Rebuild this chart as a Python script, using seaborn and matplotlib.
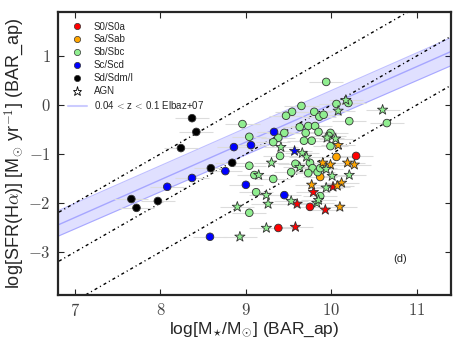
import numpy as np
import pandas as pd
import seaborn as sns
import matplotlib
matplotlib.use("Agg")
from matplotlib import pyplot as plt
from matplotlib.lines import Line2D

# --- data: log M*, log SFR ---
s0_mass = [10.29, 9.75, 9.38]
s0_sfr = [-1.04, -2.08, -2.51]
s0_agn_mass = [9.79, 10.02, 9.93, 9.60, 9.58]
s0_agn_sfr = [-1.78, -1.67, -2.14, -2.02, -2.49]

sa_mass = [10.06, 9.87]
sa_sfr = [-1.06, -1.47]
sa_agn_mass = [10.08, 9.90, 9.99, 10.19, 10.27, 9.77, 10.12, 10.07, 10.10]
sa_agn_sfr = [-0.82, -1.18, -1.22, -1.18, -1.22, -1.63, -1.59, -1.65, -2.08]

sb_mass = [9.94, 9.65, 9.54, 9.47, 9.80, 9.86, 9.91, 10.06, 10.20, 10.21, 10.65,
           9.63, 9.73, 9.81, 9.85, 9.70, 9.77, 9.68, 9.45, 9.38, 9.32, 9.99, 9.97, 9.99,
           8.96, 9.04, 9.40, 9.04, 9.58, 9.75, 9.78, 9.73, 9.84, 9.87, 9.53, 9.10, 9.32,
           9.12, 9.87, 9.04]
sb_sfr = [0.47, -0.02, -0.14, -0.22, -0.14, -0.24, -0.20, 0.02, 0.04, -0.33, -0.37,
          -0.45, -0.43, -0.43, -0.55, -0.57, -0.73, -0.73, -0.57, -0.67, -0.76, -0.57, -0.63, -0.84,
          -0.39, -0.65, -1.04, -1.24, -1.20, -1.18, -1.29, -1.39, -1.37, -1.29, -1.37, -1.43, -1.51,
          -1.78, -1.86, -2.20]
sb_agn_mass = [10.08, 10.17, 10.60, 10.05, 9.95, 9.41, 9.66, 9.71, 9.30, 9.63, 9.94, 10.01,
               10.21, 9.15, 9.94, 9.24, 9.53, 9.26, 9.83, 9.85, 9.24, 8.90, 8.93]
sb_agn_sfr = [-0.12, 0.10, -0.10, -0.69, -0.67, -0.86, -0.98, -1.06, -1.18, -1.27, -1.31, -1.45,
              -1.43, -1.43, -1.69, -1.84, -1.96, -2.02, -2.00, -1.94, -2.51, -2.08, -2.69]

sc_mass = [8.86, 9.00, 8.76, 8.37, 8.08, 8.58, 9.33, 9.06, 9.45]
sc_sfr = [-0.86, -1.63, -1.35, -1.49, -1.67, -2.69, -0.55, -0.82, -1.84]
sc_agn_mass = [9.57]
sc_agn_sfr = [-0.94]

sd_mass = [8.37, 8.42, 8.24, 8.59, 8.84, 7.66, 7.72, 7.97]
sd_sfr = [-0.27, -0.55, -0.88, -1.29, -1.18, -1.92, -2.10, -1.96]

mass_err = 0.2

# Elbaz+07 relation, read at the plot edges
elbaz_mass = [6.8, 11.4]
elbaz_sfr = [-2.45, 1.09]
elbaz_hi = [-2.16, 1.37]
elbaz_lo = [-2.68, 0.80]

ssfr_levels = [-9, -10, -11]
ssfr_mass = np.array([6.5, 12.0])

types = ["S0/S0a", "Sa/Sab", "Sb/Sbc", "Sc/Scd", "Sd/Sdm/I"]
colors = ["#ff0000", "#ffa500", "#90ee90", "#0000ff", "#000000"]

rows = []
groups = [
    ("S0/S0a", s0_mass, s0_sfr, False), ("S0/S0a", s0_agn_mass, s0_agn_sfr, True),
    ("Sa/Sab", sa_mass, sa_sfr, False), ("Sa/Sab", sa_agn_mass, sa_agn_sfr, True),
    ("Sb/Sbc", sb_mass, sb_sfr, False), ("Sb/Sbc", sb_agn_mass, sb_agn_sfr, True),
    ("Sc/Scd", sc_mass, sc_sfr, False), ("Sc/Scd", sc_agn_mass, sc_agn_sfr, True),
    ("Sd/Sdm/I", sd_mass, sd_sfr, False),
]
for t, m, s, agn in groups:
    for mi, si in zip(m, s):
        rows.append([t, mi, si, agn])
df = pd.DataFrame(rows, columns=["type", "mass", "sfr", "agn"])

sns.set_style("ticks")
plt.rcParams["font.family"] = ["Liberation Sans", "DejaVu Sans"]
plt.rcParams["mathtext.fontset"] = "cm"

fig, ax = plt.subplots(figsize=(4.63, 3.48), dpi=100)
fig.subplots_adjust(left=0.125, right=0.974, top=0.966, bottom=0.152)

# band
ax.fill_between(elbaz_mass, elbaz_lo, elbaz_hi, color="#0000ff", alpha=0.12, lw=0, zorder=1)
ax.plot(elbaz_mass, elbaz_hi, color="#0000ff", alpha=0.25, lw=0.8, zorder=1)
ax.plot(elbaz_mass, elbaz_lo, color="#0000ff", alpha=0.25, lw=0.8, zorder=1)
ax.plot(elbaz_mass, elbaz_sfr, color="#8080ff", alpha=0.6, lw=1.0, zorder=1)

for lv in ssfr_levels:
    ax.plot(ssfr_mass, ssfr_mass + lv, color="black", lw=1.0, zorder=2,
            dashes=(2.2, 2.2, 0.8, 2.2))

ax.errorbar(df["mass"], df["sfr"], xerr=mass_err, fmt="none", ecolor="#dcdcdc",
            elinewidth=0.8, capsize=0, zorder=3)

sns.scatterplot(data=df[~df["agn"]], x="mass", y="sfr", hue="type", hue_order=types,
                palette=colors, marker="o", s=30, edgecolor="#333333", linewidth=0.6,
                legend=False, ax=ax, zorder=4)
sns.scatterplot(data=df[df["agn"]], x="mass", y="sfr", hue="type", hue_order=types,
                palette=colors, marker="*", s=60, edgecolor="#333333", linewidth=0.6,
                legend=False, ax=ax, zorder=5)

handles = [Line2D([], [], ls="", marker="o", color=c, markeredgecolor="#333333",
                  markeredgewidth=0.5, markersize=4.5) for c in colors]
handles.append(Line2D([], [], ls="", marker="*", markerfacecolor="white",
                      markeredgecolor="black", markeredgewidth=0.6, markersize=6.5))
handles.append(Line2D([], [], color="#0000ff", alpha=0.2, lw=1.5))
labels = types + ["AGN", "0.04$\\,<\\,$z$\\,<\\,$0.1 Elbaz+07"]
ax.legend(handles, labels, loc="upper left", frameon=False, fontsize=7,
          handletextpad=0.7, labelspacing=0.3, borderaxespad=0.6)

ax.text(10.72, -3.2, "(d)", fontsize=8)

ax.set_xlim(6.8, 11.4)
ax.set_ylim(-3.88, 1.9)
ax.set_xticks([7, 8, 9, 10, 11])
ax.set_yticks([1, 0, -1, -2, -3])
ax.set_xticklabels([f"${v}$" for v in [7, 8, 9, 10, 11]])
ax.set_yticklabels([f"${v}$" for v in [1, 0, -1, -2, -3]])
ax.tick_params(direction="in", top=True, right=True, labelsize=12, length=4,
               labelcolor="#444444", pad=5)
for sp in ax.spines.values():
    sp.set_linewidth(1.6)
ax.set_xlabel(r"log[M$_{\star}$/M$_{\odot}$] (BAR_ap)", fontsize=12.5, labelpad=1)
ax.set_ylabel(r"log[SFR(H$\alpha$)] [M$_{\odot}$ yr$^{-1}$] (BAR_ap)", fontsize=13, labelpad=2)

plt.savefig("out.png", dpi=100)
